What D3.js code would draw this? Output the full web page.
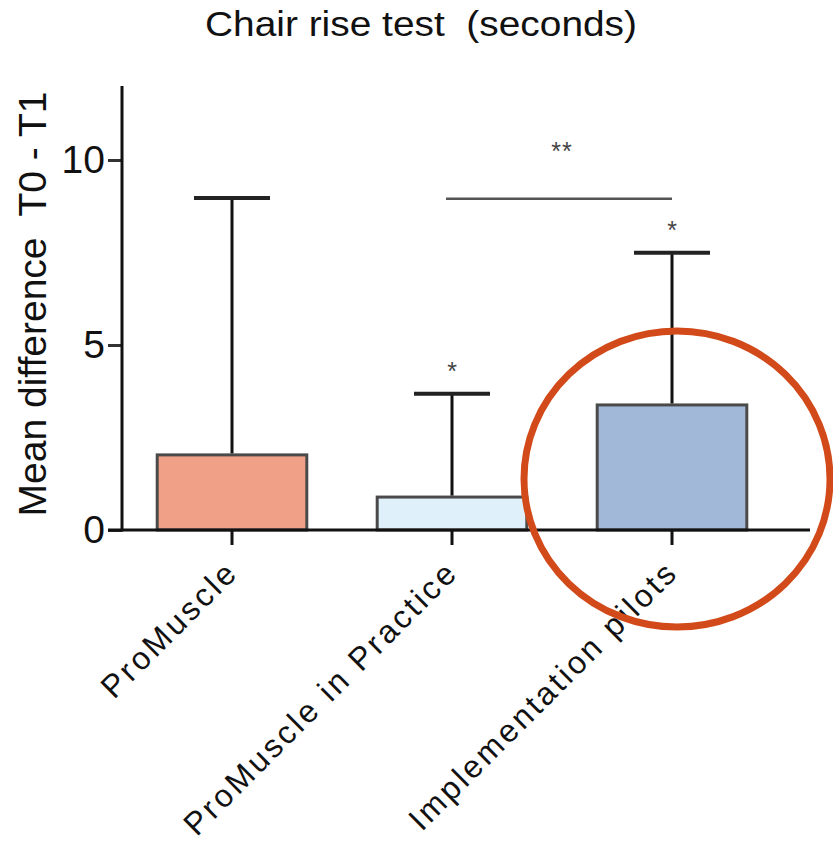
<!DOCTYPE html>
<html>
<head>
<meta charset="utf-8">
<script src="https://cdn.jsdelivr.net/npm/d3@7"></script>
<style>
  body { margin: 0; background: #fff; }
  text { font-family: "Liberation Sans", Arial, sans-serif; white-space: pre; }
</style>
</head>
<body>
<div id="chart"></div>
<script>
var categories = ['ProMuscle', 'ProMuscle in Practice', 'Implementation pilots'];
var means = [2.03, 0.89, 3.38];
var errTops = [8.97, 3.68, 7.49];
var barColors = ['#f0a086', '#dff0fa', '#a2b8d9'];
var yTicks = [0, 5, 10];
var stars = ['', '*', '*'];

var width = 833,
    height = 846;

var svg = d3.select('#chart').append('svg')
    .attr('width', width)
    .attr('height', height)

var yScale = d3.scaleLinear()
    .domain([0, 12])
    .range([530, 86])

var xScale = d3.scaleBand()
    .domain(categories)
    .range([122, 782])
    .paddingInner(0.32)
    .paddingOuter(0.16)

// title
svg.append('text')
    .attr('x', 205)
    .attr('y', 36)
    .attr('textLength', 432)
    .attr('lengthAdjust', 'spacingAndGlyphs')
    .style('font-size', '35px')
    .style('fill', '#111')
    .text('Chair rise test  (seconds)')

// y label
svg.append('text')
    .attr('transform', 'translate(46, 304) rotate(-90)')
    .attr('text-anchor', 'middle')
    .style('font-size', '39px')
    .style('fill', '#111')
    .text('Mean difference  T0 - T1')

// bars
svg.append('g').selectAll('rect').data(categories)
    .enter().append('rect')
    .attr('x', function (d) { return xScale(d); })
    .attr('y', function (d, i) { return yScale(means[i]); })
    .attr('width', xScale.bandwidth())
    .attr('height', function (d, i) { return yScale(0) - yScale(means[i]); })
    .style('fill', function (d, i) { return barColors[i]; })
    .style('stroke', '#4a4a4a')
    .style('stroke-width', 3)

// error bars
var err = svg.append('g')
err.selectAll('line.stem').data(categories)
    .enter().append('line')
    .attr('class', 'stem')
    .attr('x1', function (d) { return xScale(d) + xScale.bandwidth() / 2; })
    .attr('x2', function (d) { return xScale(d) + xScale.bandwidth() / 2; })
    .attr('y1', function (d, i) { return yScale(means[i]) - 1.5; })
    .attr('y2', function (d, i) { return yScale(errTops[i]); })
    .style('stroke', '#111')
    .style('stroke-width', 3)
err.selectAll('line.cap').data(categories)
    .enter().append('line')
    .attr('class', 'cap')
    .attr('x1', function (d) { return xScale(d) + xScale.bandwidth() / 2 - 38; })
    .attr('x2', function (d) { return xScale(d) + xScale.bandwidth() / 2 + 38; })
    .attr('y1', function (d, i) { return yScale(errTops[i]); })
    .attr('y2', function (d, i) { return yScale(errTops[i]); })
    .style('stroke', '#222')
    .style('stroke-width', 4)

// stars above error bars
svg.append('g').selectAll('text').data(categories)
    .enter().append('text')
    .attr('x', function (d) { return xScale(d) + xScale.bandwidth() / 2; })
    .attr('y', function (d, i) { return yScale(errTops[i]) - 14; })
    .attr('text-anchor', 'middle')
    .style('font-size', '25px')
    .style('fill', '#444')
    .text(function (d, i) { return stars[i]; })

// significance bracket between practice and pilots
var c1 = xScale(categories[1]) + xScale.bandwidth() / 2,
    c2 = xScale(categories[2]) + xScale.bandwidth() / 2;
svg.append('line')
    .attr('x1', c1 - 6).attr('x2', c2)
    .attr('y1', yScale(8.95)).attr('y2', yScale(8.95))
    .style('stroke', '#555')
    .style('stroke-width', 2.5)
svg.append('text')
    .attr('x', (c1 + c2) / 2)
    .attr('y', yScale(10.0))
    .attr('text-anchor', 'middle')
    .style('font-size', '25px')
    .style('letter-spacing', '1px')
    .style('fill', '#444')
    .text('**')

// y axis
var yAxis = d3.axisLeft(yScale).tickValues(yTicks).tickSize(14).tickPadding(3)
var yG = svg.append('g').attr('transform', 'translate(122, 0)').call(yAxis)
yG.select('.domain').remove()
yG.selectAll('line').style('stroke', '#333').style('stroke-width', 3)
yG.selectAll('text').style('font-size', '39px').style('fill', '#111')
    .style('font-family', '"Liberation Sans", Arial, sans-serif')
svg.append('line')
    .attr('x1', 122).attr('x2', 122)
    .attr('y1', yScale(12)).attr('y2', yScale(0) + 1.5)
    .style('stroke', '#111').style('stroke-width', 3)

// x axis
var xAxis = d3.axisBottom(xScale).tickSize(15).tickSizeOuter(0)
var xG = svg.append('g').attr('transform', 'translate(0, 530)').call(xAxis)
xG.select('.domain').remove()
xG.selectAll('line').style('stroke', '#111').style('stroke-width', 3)
xG.selectAll('text')
    .attr('text-anchor', 'end')
    .attr('transform', 'translate(8, 44) rotate(-45)')
    .attr('x', 0).attr('y', 0).attr('dy', 0)
    .style('font-size', '32px')
    .style('letter-spacing', '3px')
    .style('fill', '#111')
    .style('font-family', '"Liberation Sans", Arial, sans-serif')
svg.append('line')
    .attr('x1', 108).attr('x2', 810)
    .attr('y1', yScale(0)).attr('y2', yScale(0))
    .style('stroke', '#111').style('stroke-width', 3)

// highlight circle
svg.append('ellipse')
    .attr('cx', xScale(categories[2]) + xScale.bandwidth() / 2 + 5)
    .attr('cy', 479)
    .attr('rx', 153)
    .attr('ry', 148)
    .style('fill', 'none')
    .style('stroke', '#d24a1a')
    .style('stroke-width', 7)
</script>
</body>
</html>
